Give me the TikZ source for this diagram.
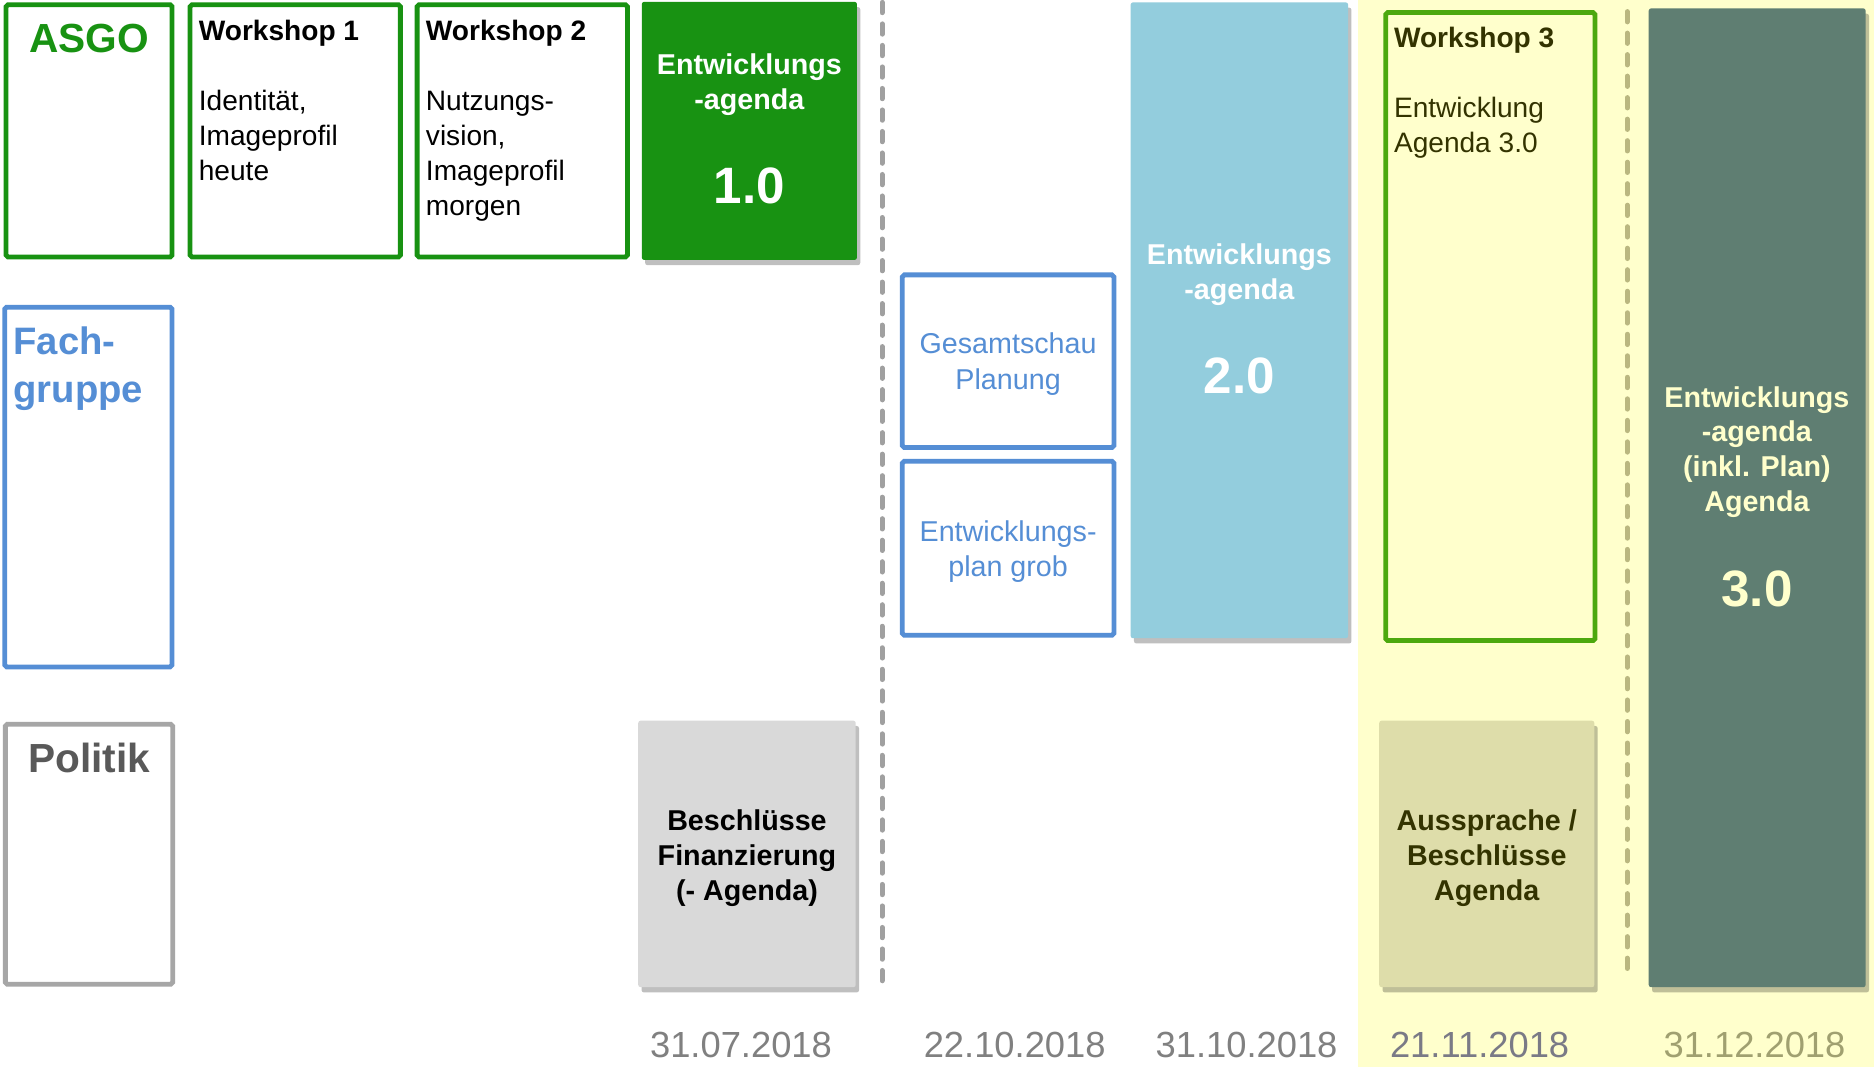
\documentclass[tikz,border=0pt]{standalone}
\usepackage{fontspec}
\setmainfont{Liberation Sans}
\usetikzlibrary{shadows}
\definecolor{asgoGreen}{RGB}{24,146,18}
\definecolor{fachBlue}{RGB}{85,142,213}
\definecolor{polGray}{RGB}{166,166,166}
\definecolor{polText}{RGB}{89,89,89}
\definecolor{beschFill}{RGB}{217,217,217}
\definecolor{aquaFill}{RGB}{147,205,221}
\definecolor{bandYellow}{RGB}{255,255,204}
\definecolor{wsGreen}{RGB}{76,168,14}
\definecolor{oliveText}{RGB}{51,51,0}
\definecolor{ausFill}{RGB}{222,221,170}
\definecolor{tealFill}{RGB}{95,126,114}
\definecolor{dashGray}{RGB}{160,160,160}
\definecolor{dashTan}{RGB}{186,183,128}
\definecolor{dateGray}{RGB}{128,128,128}
\definecolor{dateBlueGray}{RGB}{122,122,134}
\definecolor{dateTan}{RGB}{160,160,112}
\begin{document}
\begin{tikzpicture}[x=0.5pt,y=-0.5pt,
  outbox/.style={draw=#1, line width=2pt, rounded corners=0.8pt, inner sep=0pt, outer sep=0pt},
  fillbox/.style={fill=#1, draw=none, rounded corners=1pt, inner sep=0pt, outer sep=0pt,
     drop shadow={shadow xshift=1.4pt, shadow yshift=-2.2pt, opacity=0.25, fill=black}},
  wstext/.style={anchor=north west, inner sep=0pt, align=left, font=\fontsize{11.75}{14.65}\selectfont},
  agtext/.style={anchor=north, inner sep=0pt, align=center, font=\fontsize{12}{14.6}\selectfont\bfseries},
  agnum/.style={anchor=base, inner sep=0pt, font=\fontsize{21.4}{24}\selectfont\bfseries},
  boxtext/.style={anchor=north, inner sep=0pt, align=center, font=\fontsize{12}{14.75}\selectfont},
  datetext/.style={anchor=base, inner sep=0pt, font=\fontsize{15.2}{18}\selectfont},
  dashline/.style={draw=#1, line width=2.1pt, line cap=round, dash pattern=on 4.3pt off 4.7pt}
]
\useasboundingbox[fill=white] (0,0) rectangle (1568,893);
% yellow band
\fill[bandYellow] (1136,0) rectangle (1568,893);

% row labels
\node[outbox=asgoGreen, minimum width=69.5pt, minimum height=105.5pt] (asgo) at (74.5,109.5) {};
\node[anchor=base, inner sep=0pt, font=\fontsize{17}{20}\selectfont\bfseries, text=asgoGreen] (asgoT) at (74.5,43.7) {ASGO};

\node[outbox=fachBlue, minimum width=70pt, minimum height=150.5pt] (fach) at (74,407.5) {};
\node[anchor=north west, inner sep=0pt, align=left, font=\fontsize{16}{20.2}\selectfont\bfseries, text=fachBlue] (fachT) at (11,272.7) {Fach-\\gruppe};

\node[outbox=polGray, minimum width=70pt, minimum height=108.75pt] (pol) at (74.5,714.75) {};
\node[anchor=base, inner sep=0pt, font=\fontsize{17}{20}\selectfont\bfseries, text=polText] (polT) at (74.5,646.5) {Politik};

% workshops 1 and 2
\node[outbox=asgoGreen, minimum width=88pt, minimum height=105.5pt] (ws1) at (247,109.5) {};
\node[wstext] (ws1T) at (166,16.7) {\textbf{Workshop 1}\\[14.65pt]Identität,\\Imageprofil\\heute};
\node[outbox=asgoGreen, minimum width=88pt, minimum height=105.5pt] (ws2) at (437,109.5) {};
\node[wstext] (ws2T) at (356,16.7) {\textbf{Workshop 2}\\[14.65pt]Nutzungs-\\vision,\\Imageprofil\\morgen};

% agenda 1.0
\node[fillbox=asgoGreen, minimum width=90pt, minimum height=108pt] (ag1) at (627,109.5) {};
\node[agtext, text=white] (ag1T) at (627,44.8) {Entwicklungs\\-agenda};
\node[agnum, text=white] (ag1N) at (627,170) {1.0};

% Beschluesse
\node[fillbox=beschFill, minimum width=91pt, minimum height=111.5pt] (besch) at (625,714.5) {};
\node[boxtext, font=\fontsize{12}{14.75}\selectfont\bfseries, text=black] (beschT) at (625,677) {Beschlüsse\\Finanzierung\\(- Agenda)};

% dashed line 1
\coordinate (d1a) at (738,2);
\coordinate (d1b) at (738,823);
\draw[dashline=dashGray] (d1a) -- (d1b);

% Fachgruppe boxes
\node[outbox=fachBlue, minimum width=88.5pt, minimum height=72.25pt] (gesamt) at (843.5,302.25) {};
\node[boxtext, text=fachBlue] (gesamtT) at (843.5,278.2) {Gesamtschau\\Planung};
\node[outbox=fachBlue, minimum width=88.5pt, minimum height=72.75pt] (eplan) at (843.5,458.75) {};
\node[boxtext, font=\fontsize{12}{14.3}\selectfont, text=fachBlue] (eplanT) at (843.5,435.6) {Entwicklungs-\\plan grob};

% agenda 2.0
\node[fillbox=aquaFill, minimum width=91pt, minimum height=266pt] (ag2) at (1037,268) {};
\node[agtext, text=white] (ag2T) at (1037,203.7) {Entwicklungs\\-agenda};
\node[agnum, text=white] (ag2N) at (1037,329) {2.0};

% workshop 3
\node[outbox=wsGreen, fill=bandYellow, minimum width=87.5pt, minimum height=262.8pt] (ws3) at (1247,273.2) {};
\node[wstext, text=oliveText] (ws3T) at (1166,22.2) {\textbf{Workshop 3}\\[14.65pt]Entwicklung\\Agenda 3.0};

% Aussprache
\node[fillbox=ausFill, minimum width=90pt, minimum height=111.5pt] (aus) at (1244,714.5) {};
\node[boxtext, font=\fontsize{12}{14.75}\selectfont\bfseries, text=oliveText] (ausT) at (1244,677) {Aussprache /\\Beschlüsse\\Agenda};

% dashed line 2
\coordinate (d2a) at (1361.5,9.7);
\coordinate (d2b) at (1361.5,819);
\draw[dashline=dashTan] (d2a) -- (d2b);

% agenda 3.0
\node[fillbox=tealFill, minimum width=90.75pt, minimum height=409.5pt] (ag3) at (1470.25,416.5) {};
\node[agtext, text=bandYellow] (ag3T) at (1470,322.8) {Entwicklungs\\-agenda\\(inkl. Plan)\\Agenda};
\node[agnum, text=bandYellow] (ag3N) at (1470,507.6) {3.0};

% dates
\node[datetext, text=dateGray] (dt1) at (620,885) {31.07.2018};
\node[datetext, text=dateGray] (dt2) at (849,885) {22.10.2018};
\node[datetext, text=dateGray] (dt3) at (1043,885) {31.10.2018};
\node[datetext, text=dateBlueGray] (dt4) at (1238,885) {21.11.2018};
\node[datetext, text=dateTan] (dt5) at (1468,885) {31.12.2018};
\end{tikzpicture}
\end{document}
